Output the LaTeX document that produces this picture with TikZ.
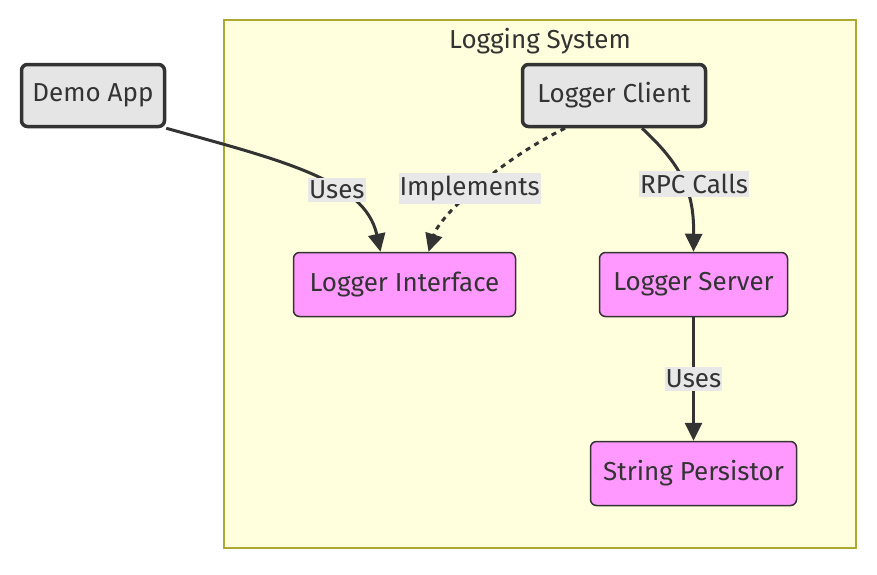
\documentclass[tikz,border=0pt]{standalone}
\usepackage{fontspec}
\setmainfont{Fira Sans}
\usetikzlibrary{arrows.meta}
\definecolor{ink}{HTML}{333333}
\definecolor{clusterfill}{HTML}{FFFFDE}
\definecolor{clusterline}{HTML}{AAAA33}
\definecolor{greyfill}{HTML}{E5E5E5}
\definecolor{pinkfill}{HTML}{FF99FF}
\definecolor{labelfill}{HTML}{E8E8E8}
\begin{document}
\begin{tikzpicture}[x=1pt,y=-1pt,
    font=\fontsize{26}{30}\selectfont,
    box/.style={rounded corners=6pt,inner sep=0pt,text=ink},
    greybox/.style={box,fill=greyfill,draw=ink,line width=3.5pt,minimum height=62pt},
    pinkbox/.style={box,fill=pinkfill,draw=ink,line width=1.5pt,minimum height=64pt},
    link/.style={draw=ink,line width=3pt,-{Triangle[length=18pt,width=17pt]}},
    lbl/.style={fill=labelfill,text=ink,inner xsep=1pt,inner ysep=3pt}]
  \fill[white] (0,0) rectangle (877,574);
  % subgraph frame
  \draw[fill=clusterfill,draw=clusterline,line width=1.5pt] (224,20) rectangle (856,548);
  \node[text=ink] (title) at (540,41) {Logging System};
  % nodes
  \node[greybox,minimum width=143pt] (demo) at (93,95.5) {Demo App};
  \node[greybox,minimum width=183pt] (client) at (614,95.5) {Logger Client};
  \node[pinkbox,minimum width=222pt] (iface) at (404.5,284.5) {Logger Interface};
  \node[pinkbox,minimum width=188pt] (server) at (693.5,284.5) {Logger Server};
  \node[pinkbox,minimum width=206pt] (persist) at (693.5,473.5) {String Persistor};
  % edges
  \draw[link] (demo.south east) .. controls (280,160) and (365,180) ..
    node[lbl,pos=0.63] {Uses} ([xshift=-24pt]iface.north);
  \draw[link,dash pattern=on 5pt off 5pt] ([xshift=-49pt]client.south) .. controls (500,160) and (440,215) ..
    node[lbl,pos=0.5,xshift=-7pt] {Implements} ([xshift=24pt]iface.north);
  \draw[link] ([xshift=28pt]client.south) .. controls (685,168) and (694,195) ..
    node[lbl,pos=0.5,xshift=10pt] {RPC Calls} (server.north);
  \draw[link] (server.south) -- node[lbl] {Uses} (persist.north);
\end{tikzpicture}
\end{document}
